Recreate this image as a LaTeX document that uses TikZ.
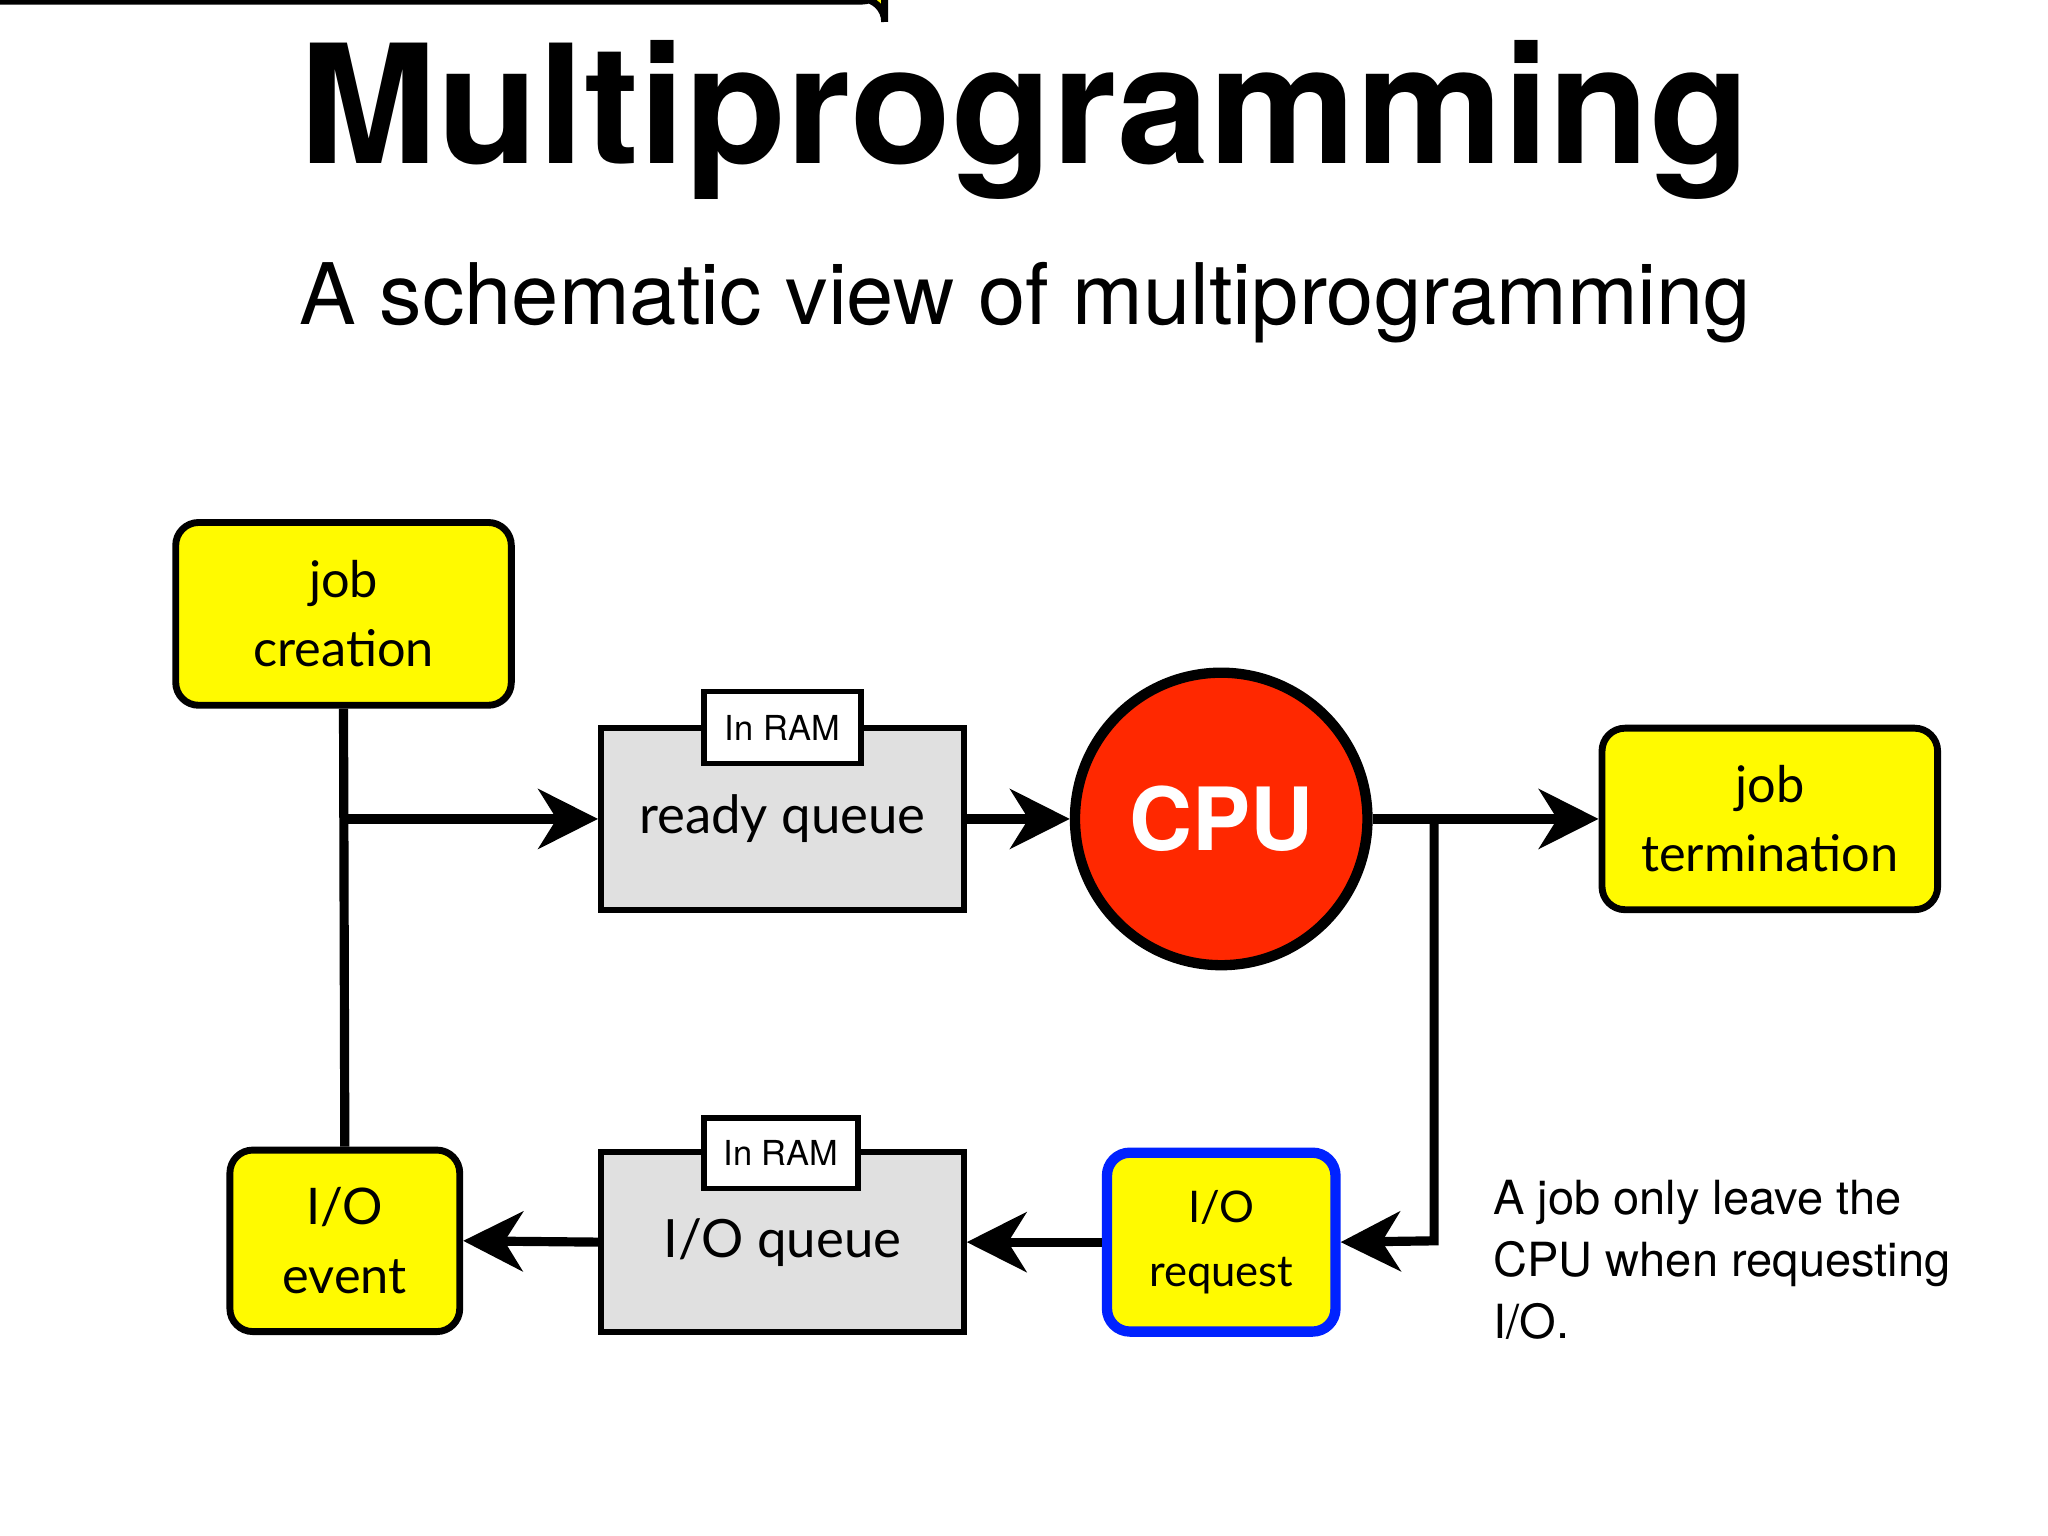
\documentclass[tikz,border=0pt]{standalone}
\usepackage{fontspec}
\setmainfont{TeX Gyre Heros}
\newfontfamily\gill{Lato}
\usetikzlibrary{arrows.meta}
\definecolor{yel}{RGB}{255,250,0}
\definecolor{gry}{RGB}{224,224,224}
\definecolor{cpured}{RGB}{255,40,0}
\definecolor{blu}{RGB}{0,34,255}
\begin{document}
\begin{tikzpicture}[x=0.02cm,y=-0.02cm,
  box/.style={draw=black,line width=3pt,rounded corners=10pt,fill=yel,align=center,inner sep=0pt,font=\gill\fontsize{22}{30}\selectfont},
  queue/.style={draw=black,line width=2.5pt,fill=gry,inner sep=0pt,font=\gill\fontsize{23}{28}\selectfont},
  tab/.style={draw=black,line width=2.5pt,fill=white,inner sep=0pt,font=\fontsize{15}{18}\selectfont},
  conn/.style={line width=4pt},
  arr/.style={line width=4pt,-{Stealth[length=26pt,width=26pt,inset=8pt]}}]
\useasboundingbox (0,0) rectangle (1568,1176);
\node[font=\bfseries\fontsize{72}{80}\selectfont] (title) at (785,92) {Multiprogramming};
\node[font=\fontsize{37}{44}\selectfont] (sub) at (785,232) {A schematic view of multiprogramming};
\node[box,minimum width=257\pgflinewidth,text width=0pt] (dummy) at (0,0) {};
\node[box,minimum width=5.14cm,minimum height=2.8cm] (jc) at (263,470) {job\\creation};
\node[queue,minimum width=5.56cm,minimum height=2.78cm] (rq) at (599,627) {ready queue};
\node[tab,minimum width=2.4cm,minimum height=1.1cm] (t1) at (599,557) {In RAM};
\node[circle,draw=black,line width=4.5pt,fill=cpured,minimum size=4.48cm,inner sep=0pt,text=white,font=\bfseries\fontsize{38}{40}\selectfont] (cpu) at (935,627) {CPU};
\node[box,minimum width=5.14cm,minimum height=2.78cm] (jt) at (1355,627) {job\\termination};
\node[box,minimum width=3.52cm,minimum height=2.78cm] (ioe) at (264,950) {I/O\\event};
\node[queue,minimum width=5.56cm,minimum height=2.76cm] (ioq) at (599,951) {I/O queue};
\node[tab,minimum width=2.36cm,minimum height=1.08cm] (t2) at (598,883) {In RAM};
\node[box,draw=blu,line width=4.5pt,minimum width=3.5cm,minimum height=2.74cm,font=\gill\fontsize{19}{28}\selectfont] (ior) at (935,951) {I/O\\request};
\node[anchor=north west,align=left,inner sep=0pt,font=\fontsize{20.5}{27}\selectfont] (note) at (1143,903) {A job only leave the\\CPU when requesting\\I/O.};
\coordinate (b1) at (263,627);
\coordinate (b2) at (1098,627);
\coordinate (c2) at (1098,950);
\draw[conn] (jc.south) -- (ioe.north);
\draw[arr] (b1) -- (rq.west);
\draw[arr] (rq.east) -- (cpu.west);
\draw[arr] (cpu.east) -- (jt.west);
\draw[arr] (b2) -- (c2) -- (ior.east);
\draw[arr] (ior.west) -- (ioq.east);
\draw[arr] (ioq.west) -- (ioe.east);
\end{tikzpicture}
\end{document}
